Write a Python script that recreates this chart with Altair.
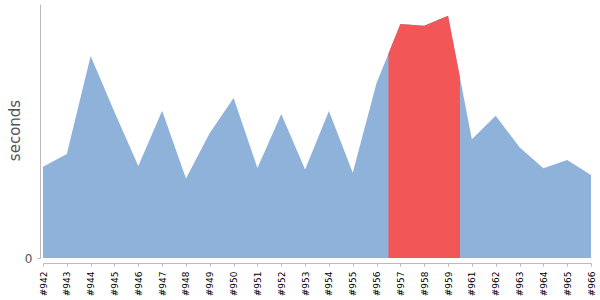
import altair as alt
import pandas as pd

builds = ["#942", "#943", "#944", "#945", "#946", "#947", "#948", "#949",
          "#950", "#951", "#952", "#953", "#954", "#955", "#956", "#957",
          "#958", "#959", "#961", "#962", "#963", "#964", "#965", "#966"]
seconds = [91.3, 104, 202, 146, 92, 147.3, 79.5, 125,
           160, 90, 144, 88.5, 147, 85.3, 175, 234,
           232.3, 242.3, 118.7, 142.3, 110.7, 89.7, 98, 83]
highlight = ["#957", "#958", "#959"]

idx = list(range(len(builds)))
df = pd.DataFrame({"i": idx, "build": builds, "seconds": seconds})

# highlighted band spans half a step either side of the highlighted builds
h0 = builds.index(highlight[0])
h1 = builds.index(highlight[-1])
red_i = [h0 - 0.5] + list(range(h0, h1 + 1)) + [h1 + 0.5]
red_v = ([(seconds[h0 - 1] + seconds[h0]) / 2] + seconds[h0:h1 + 1]
         + [(seconds[h1] + seconds[h1 + 1]) / 2])
df_red = pd.DataFrame({"i": red_i, "seconds": red_v})

label_expr = "[" + ",".join("'%s'" % b for b in builds) + "][datum.value]"

x_scale = alt.Scale(domain=[0, len(builds) - 1], nice=False, zero=False)
y_scale = alt.Scale(domain=[0, 254], nice=False)

x_axis = alt.Axis(
    values=idx, labelExpr=label_expr, labelAngle=270, title=None,
    offset=5, tickSize=3, labelPadding=5, domainColor="#bbbbbb",
    tickColor="#bbbbbb", labelColor="#000000", labelFont="DejaVu Sans",
    labelFontSize=9, grid=False, labelOverlap=False, labelBound=False,
    labelFlush=False,
)
y_axis = alt.Axis(
    values=[0], title="seconds", offset=3, tickSize=3, labelPadding=5,
    domainColor="#bbbbbb", tickColor="#bbbbbb", labelColor="#555555",
    labelFont="DejaVu Sans", labelFontSize=12, grid=False,
    titleFont="DejaVu Sans", titleFontSize=15, titleFontWeight="normal",
    titleColor="#555555", titleX=-21, titleY=126, titleAlign="center",
    titleBaseline="alphabetic", titleAngle=270,
)

x_enc = alt.X("i:Q", scale=x_scale, axis=x_axis)
y_enc = alt.Y("seconds:Q", scale=y_scale, axis=y_axis)

blue = alt.Chart(df).mark_area(color="#8fb2da", opacity=1).encode(x=x_enc, y=y_enc)
red = alt.Chart(df_red).mark_area(color="#f25656", opacity=1).encode(x=x_enc, y=y_enc)

chart = (
    alt.layer(blue, red)
    .properties(
        width=548, height=254,
        autosize=alt.AutoSizeParams(type="none"),
        padding={"left": 43, "top": 4, "right": 9, "bottom": 42},
    )
    .configure_view(stroke=None)
)

chart.save("out.html", embed_options={"renderer": "svg", "actions": False})
